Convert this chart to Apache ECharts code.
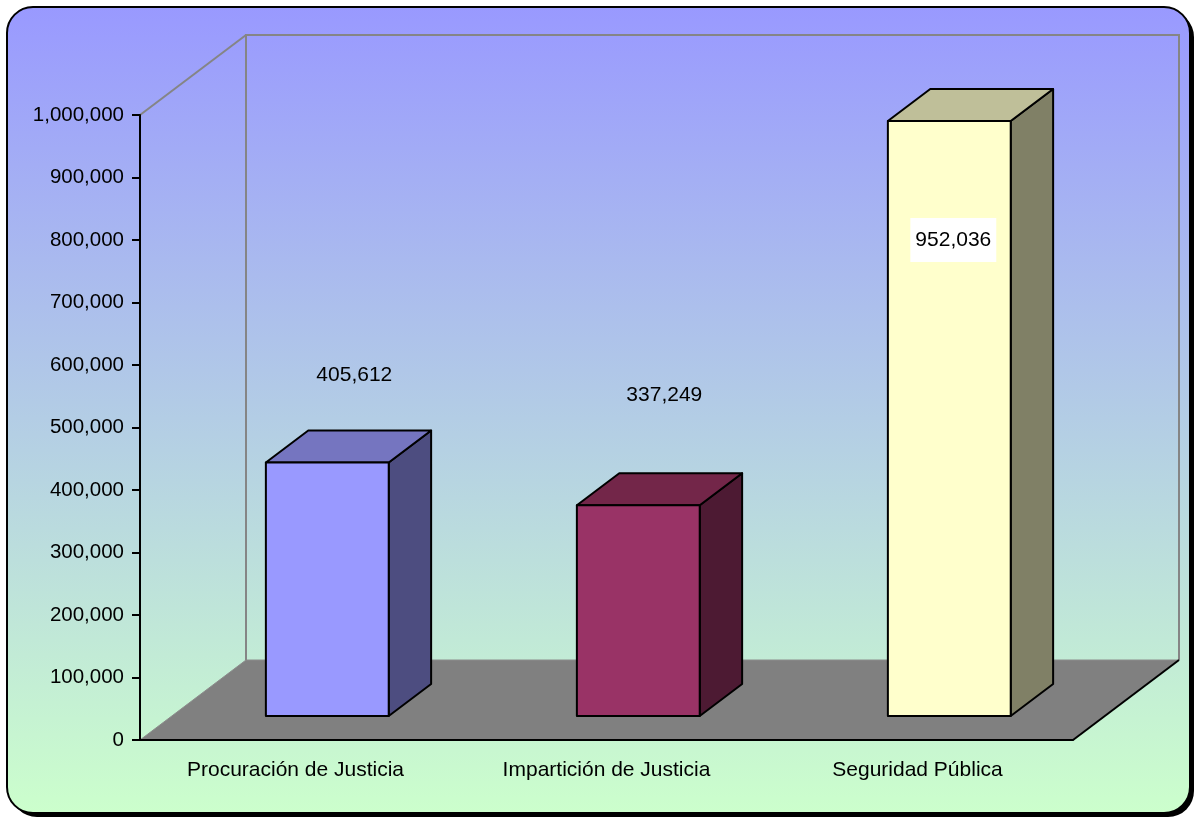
<!DOCTYPE html>
<html>
<head>
<meta charset="utf-8">
<title>Gasto en justicia y seguridad</title>
<script src="https://cdn.jsdelivr.net/npm/echarts@6/dist/echarts.min.js"></script>
<style>
  html, body { margin: 0; padding: 0; background: #fff; }
  #main { width: 1198px; height: 820px; }
</style>
</head>
<body>
<div id="main"></div>
<script>
// datos
var categories = ["Procuración de Justicia", "Impartición de Justicia", "Seguridad Pública"];
var values = [405612, 337249, 952036];
var yTicks = { min: 0, max: 1000000, interval: 100000 };

// colores de cada barra: frente, tapa, lado
var faceColors = [
  { front: "#9999ff", top: "#7575c0", side: "#4d4d80" },
  { front: "#993366", top: "#732649", side: "#4d1a33" },
  { front: "#ffffcc", top: "#bfbf99", side: "#808066" }
];
// ajuste de etiquetas (px desde el centro superior del frente)
var labelShift = [[27, -87], [26, -110], [4, 119]];
var labelBox = [false, false, true];

// proyeccion 3d
var DEPTH_X = 106, DEPTH_Y = -80;
var FRONT_DEPTH = 0.3, BAR_DEPTH = 0.4, BAR_RATIO = 0.395;
var FONT = "Liberation Sans, Arial, sans-serif";

function fmt(v) {
  return Number(v).toLocaleString("en-US");
}

function renderFrame(params, api) {
  var cs = params.coordSys;
  var x = cs.x, y = cs.y, w = cs.width, h = cs.height;
  var gray = { stroke: "#858585", lineWidth: 2, fill: null };
  return {
    type: "group",
    children: [
      {
        type: "polygon",
        shape: { points: [[x, y + h], [x + w, y + h], [x + w + DEPTH_X, y + h + DEPTH_Y], [x + DEPTH_X, y + h + DEPTH_Y]] },
        style: { fill: "#808080", stroke: "#8c8c8c", lineWidth: 1 }
      },
      {
        type: "polyline",
        shape: { points: [[x + DEPTH_X, y + h + DEPTH_Y], [x + DEPTH_X, y + DEPTH_Y], [x + w + DEPTH_X, y + DEPTH_Y], [x + w + DEPTH_X, y + h + DEPTH_Y]] },
        style: gray
      },
      {
        type: "line",
        shape: { x1: x, y1: y, x2: x + DEPTH_X, y2: y + DEPTH_Y },
        style: gray
      },
      {
        type: "line",
        shape: { x1: x + w, y1: y + h, x2: x + w + DEPTH_X, y2: y + h + DEPTH_Y },
        style: { stroke: "#000", lineWidth: 2 }
      }
    ]
  };
}

function renderBar(params, api) {
  var i = api.value(0);
  var top = api.coord([i, api.value(1)]);
  var base = api.coord([i, 0]);
  var bw = api.size([1, 0])[0] * BAR_RATIO;
  var ox = DEPTH_X * FRONT_DEPTH, oy = DEPTH_Y * FRONT_DEPTH;
  var dx = DEPTH_X * BAR_DEPTH, dy = DEPTH_Y * BAR_DEPTH;
  var x0 = base[0] - bw / 2 + ox, x1 = x0 + bw;
  var yb = base[1] + oy, yt = top[1] + oy;
  var c = faceColors[i];
  var edge = { stroke: "#000", lineWidth: 2, lineJoin: "round" };
  var sh = labelShift[i];
  var lab = {
    type: "text",
    x: (x0 + x1) / 2 + sh[0],
    y: yt + sh[1],
    style: {
      text: fmt(api.value(1)),
      font: "21px " + FONT,
      fill: "#000",
      align: "center",
      verticalAlign: "middle"
    }
  };
  if (labelBox[i]) {
    lab.style.backgroundColor = "#fff";
    lab.style.padding = [11, 5, 12, 5];
  }
  return {
    type: "group",
    children: [
      {
        type: "polygon",
        shape: { points: [[x1, yt], [x1 + dx, yt + dy], [x1 + dx, yb + dy], [x1, yb]] },
        style: Object.assign({ fill: c.side }, edge)
      },
      {
        type: "polygon",
        shape: { points: [[x0, yt], [x0 + dx, yt + dy], [x1 + dx, yt + dy], [x1, yt]] },
        style: Object.assign({ fill: c.top }, edge)
      },
      {
        type: "rect",
        shape: { x: x0, y: yt, width: bw, height: yb - yt },
        style: Object.assign({ fill: c.front }, edge)
      },
      lab
    ]
  };
}

var chart = echarts.init(document.getElementById("main"));

var option = {
  animation: false,
  backgroundColor: "#fff",
  graphic: [
    {
      type: "rect",
      z: -2,
      shape: { x: 11, y: 11, width: 1183, height: 806, r: 26 },
      style: { fill: "#000" }
    },
    {
      type: "rect",
      z: -1,
      shape: { x: 7, y: 7, width: 1183, height: 806, r: 26 },
      style: {
        fill: new echarts.graphic.LinearGradient(0, 0, 0, 1, [
          { offset: 0, color: "#9999ff" },
          { offset: 1, color: "#ccffcc" }
        ]),
        stroke: "#000",
        lineWidth: 2
      }
    }
  ],
  grid: { left: 140, top: 115, width: 933, height: 625 },
  xAxis: {
    type: "category",
    data: categories,
    z: 10,
    axisLine: { lineStyle: { color: "#000", width: 2 } },
    axisTick: { length: 8, lineStyle: { color: "#000", width: 2 } },
    axisLabel: { color: "#000", fontSize: 21, fontFamily: FONT, margin: 20 },
    splitLine: { show: false }
  },
  yAxis: {
    type: "value",
    min: yTicks.min,
    max: yTicks.max,
    interval: yTicks.interval,
    z: 10,
    axisLine: { show: true, lineStyle: { color: "#000", width: 2 } },
    axisTick: { show: true, length: 8, lineStyle: { color: "#000", width: 2 } },
    axisLabel: { color: "#000", fontSize: 20.5, fontFamily: FONT, margin: 16, formatter: fmt },
    splitLine: { show: false }
  },
  series: [
    {
      type: "custom",
      name: "frame",
      z: 1,
      silent: true,
      renderItem: renderFrame,
      data: [[0, 0]]
    },
    {
      type: "custom",
      name: "gasto",
      z: 3,
      renderItem: renderBar,
      encode: { x: 0, y: 1 },
      data: values.map(function (v, i) { return [i, v]; })
    }
  ]
};

chart.setOption(option);
</script>
</body>
</html>
